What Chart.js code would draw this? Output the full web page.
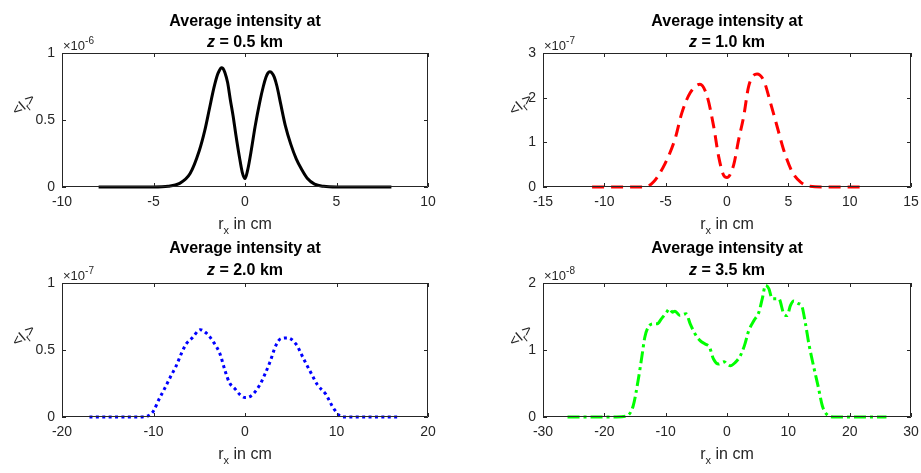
<!DOCTYPE html>
<html>
<head>
<meta charset="utf-8">
<script src="https://cdn.jsdelivr.net/npm/chart.js@4.4.1/dist/chart.umd.min.js"></script>
<style>
  html, body { margin: 0; padding: 0; background: #ffffff; }
  #wrap { position: relative; width: 921px; height: 473px; overflow: hidden; background: #ffffff; }
  #wrap canvas { position: absolute; left: 0; top: 0; }
</style>
</head>
<body>
<div id="wrap">
  <canvas id="c1" width="921" height="473"></canvas>
  <canvas id="c2" width="921" height="473"></canvas>
  <canvas id="c3" width="921" height="473"></canvas>
  <canvas id="c4" width="921" height="473"></canvas>
</div>
<script>
// Propagation distances (km) shown in the panel titles
const distances = ['0.5', '1.0', '2.0', '3.5'];
// Power-of-ten multiplier of each intensity axis
const exponents = ['-6', '-7', '-7', '-8'];

// z = 0.5 km : transverse position r_x (cm) and average intensity (x 1e-6)
const rx05 = [-8, -5, -4.2, -3.6, -3.0, -2.5, -2.2, -1.95, -1.7, -1.5, -1.4, -1.3, -1.2, -1.1, -0.95, -0.8, -0.65, -0.5, -0.3, -0.15, 0, 0.15, 0.35, 0.55, 0.8, 1.0, 1.15, 1.25, 1.35, 1.45, 1.6, 1.75, 1.95, 2.2, 2.5, 2.8, 3.1, 3.4, 3.8, 4.3, 5, 8];
const I05  = [0, 0, 0.005, 0.025, 0.10, 0.27, 0.42, 0.58, 0.74, 0.84, 0.87, 0.89, 0.885, 0.855, 0.78, 0.65, 0.53, 0.39, 0.22, 0.11, 0.063, 0.13, 0.28, 0.45, 0.63, 0.75, 0.82, 0.85, 0.86, 0.855, 0.82, 0.75, 0.62, 0.46, 0.32, 0.21, 0.13, 0.065, 0.022, 0.005, 0, 0];

// z = 1.0 km (x 1e-7)
const rx10 = [-11, -8, -6.67, -6.0, -5.04, -4.22, -3.68, -3.0, -2.2, -1.63, -1.09, -0.68, -0.27, 0, 0.54, 0.95, 1.36, 1.77, 2.45, 3.0, 3.54, 4.08, 4.62, 5.31, 6.0, 6.67, 8, 11];
const I10  = [0, 0, 0, 0.11, 0.53, 1.09, 1.66, 2.11, 2.30, 2.04, 1.36, 0.68, 0.26, 0.21, 0.49, 1.06, 1.58, 2.26, 2.53, 2.38, 1.89, 1.36, 0.83, 0.34, 0.11, 0.02, 0, 0];

// z = 2.0 km (x 1e-7)
const rx20 = [-17, -12, -10.62, -10.0, -9.45, -8.8, -8.18, -7.53, -6.98, -6.43, -5.78, -4.87, -4.25, -3.42, -2.73, -2.18, -1.71, -1.09, -0.6, 0, 0.65, 1.56, 2.18, 2.73, 3.38, 3.93, 4.65, 5.56, 6.47, 7.2, 7.92, 8.83, 9.74, 10.65, 12, 17];
const I20  = [0, 0, 0.008, 0.045, 0.125, 0.21, 0.295, 0.38, 0.47, 0.545, 0.59, 0.652, 0.627, 0.557, 0.47, 0.345, 0.257, 0.21, 0.17, 0.145, 0.157, 0.233, 0.32, 0.41, 0.535, 0.585, 0.59, 0.545, 0.425, 0.33, 0.24, 0.17, 0.058, 0, 0, 0];

// z = 3.5 km (x 1e-8)
const rx35 = [-26, -18, -16.4, -15.3, -14.5, -13.9, -13.4, -12.85, -12.0, -11.4, -10.7, -9.84, -9.4, -8.9, -8.48, -7.66, -6.67, -6.0, -5.2, -4.38, -3.56, -2.85, -2.2, -1.37, -0.44, 0, 0.55, 1.36, 2.18, 2.84, 3.55, 4.4, 5.2, 5.75, 6.28, 6.82, 7.37, 8.45, 9.26, 9.8, 10.35, 10.9, 11.55, 12.15, 12.8, 13.35, 14.16, 14.9, 15.55, 16.25, 17.4, 26];
const I35  = [0, 0, 0.015, 0.165, 0.54, 0.89, 1.19, 1.34, 1.39, 1.39, 1.465, 1.565, 1.615, 1.565, 1.58, 1.515, 1.54, 1.39, 1.24, 1.14, 1.09, 1.04, 0.865, 0.79, 0.825, 0.79, 0.765, 0.815, 0.915, 1.065, 1.29, 1.44, 1.565, 1.765, 1.965, 1.915, 1.765, 1.765, 1.54, 1.515, 1.665, 1.73, 1.695, 1.665, 1.39, 1.09, 0.74, 0.44, 0.165, 0.04, 0, 0];

// Axis ranges: [min, max, step]
const xRanges = [[-10, 10, 5], [-15, 15, 5], [-20, 20, 10], [-30, 30, 10]];
const yRanges = [[0, 1, 0.5], [0, 3, 1], [0, 1, 0.5], [0, 2, 1]];

const FONT = '"Liberation Sans", Arial, Helvetica, sans-serif';
const INK = '#262626';

// Layout of each axes box on the page: left, top, right, bottom, plus text anchors
const layouts = [
  { box: [62, 53, 428, 187],  t1: 25.5, t2: 46.5, yl: [24, 105] },
  { box: [543, 53, 911, 187], t1: 25.5, t2: 46.5, yl: [521, 105] },
  { box: [62, 283, 428, 417], t1: 253,  t2: 274.5, yl: [24, 336] },
  { box: [543, 283, 911, 417], t1: 253, t2: 274.5, yl: [521, 336] }
];

const styles = [
  { color: '#000000', dash: [] },
  { color: '#ff0000', dash: [12, 7] },
  { color: '#0000ff', dash: [3, 3.4] },
  { color: '#00ff00', dash: [12, 4, 3, 4] }
];

const series = [[rx05, I05], [rx10, I10], [rx20, I20], [rx35, I35]];

function fmt(v) { return String(+v.toFixed(3)); }

// Frame, inward ticks on all four sides and the MATLAB-style annotations
const decorations = {
  id: 'decorations',
  afterDraw(chart, args, opts) {
    const ctx = chart.ctx;
    const a = chart.chartArea;
    const xs = chart.scales.x, ys = chart.scales.y;
    const i = opts.index;
    const L = layouts[i];
    ctx.save();
    ctx.strokeStyle = INK;
    ctx.lineWidth = 1;
    ctx.beginPath();
    ctx.rect(a.left + 0.5, a.top + 0.5, a.right - a.left - 1, a.bottom - a.top - 1);
    ctx.stroke();
    const tl = 4;
    ctx.beginPath();
    xs.ticks.forEach(t => {
      const px = Math.round(xs.getPixelForValue(t.value)) + 0.5;
      ctx.moveTo(px, a.bottom); ctx.lineTo(px, a.bottom - tl);
      ctx.moveTo(px, a.top); ctx.lineTo(px, a.top + tl);
    });
    ys.ticks.forEach(t => {
      const py = Math.round(ys.getPixelForValue(t.value)) + 0.5;
      ctx.moveTo(a.left, py); ctx.lineTo(a.left + tl, py);
      ctx.moveTo(a.right, py); ctx.lineTo(a.right - tl, py);
    });
    ctx.stroke();

    const cx = (a.left + a.right) / 2;
    // Title, two lines
    ctx.fillStyle = '#000000';
    ctx.textBaseline = 'alphabetic';
    ctx.textAlign = 'center';
    ctx.font = 'bold 16px ' + FONT;
    ctx.fillText('Average intensity at', cx, L.t1);
    ctx.textAlign = 'left';
    const zFont = 'italic bold 16px ' + FONT;
    const restFont = 'bold 16px ' + FONT;
    const rest = ' = ' + distances[i] + ' km';
    ctx.font = zFont; const wz = ctx.measureText('z').width;
    ctx.font = restFont; const wr = ctx.measureText(rest).width;
    let x0 = cx - (wz + wr) / 2;
    ctx.font = zFont; ctx.fillText('z', x0, L.t2);
    ctx.font = restFont; ctx.fillText(rest, x0 + wz, L.t2);

    // Exponent above the y axis
    ctx.fillStyle = INK;
    ctx.font = '13px ' + FONT;
    const ex = a.left + 1;
    ctx.fillText('\u00d710', ex, a.top - 3);
    const w10 = ctx.measureText('\u00d710').width;
    ctx.font = '10px ' + FONT;
    ctx.fillText(exponents[i], ex + w10, a.top - 9);

    // x label: r_x in cm
    ctx.font = '16px ' + FONT;
    const wrr = ctx.measureText('r').width;
    const wrest = ctx.measureText(' in cm').width;
    ctx.font = '11px ' + FONT;
    const wx = ctx.measureText('x').width;
    const xb = a.bottom + 42;
    let lx = cx - (wrr + wx + wrest) / 2;
    ctx.font = '16px ' + FONT;
    ctx.fillText('r', lx, xb);
    ctx.font = '11px ' + FONT;
    ctx.fillText('x', lx + wrr, xb + 5);
    ctx.font = '16px ' + FONT;
    ctx.fillText(' in cm', lx + wrr + wx, xb);

    // y label: <I_r>, tilted
    ctx.translate(L.yl[0], L.yl[1]);
    ctx.rotate(-0.7);
    ctx.font = '15px ' + FONT;
    const wa = ctx.measureText('<I').width;
    const wb = ctx.measureText('>').width;
    ctx.font = '11px ' + FONT;
    const wsub = ctx.measureText('r').width;
    const tot = wa + wsub + wb;
    ctx.textBaseline = 'middle';
    ctx.font = '15px ' + FONT;
    ctx.fillText('<I', -tot / 2, 0);
    ctx.font = '11px ' + FONT;
    ctx.fillText('r', -tot / 2 + wa, 5);
    ctx.font = '15px ' + FONT;
    ctx.fillText('>', -tot / 2 + wa + wsub, 0);
    ctx.restore();
  }
};

['c1', 'c2', 'c3', 'c4'].forEach((id, i) => {
  const [lft, top, rgt, bot] = layouts[i].box;
  const yW = 60, xH = 50;
  const pts = series[i][0].map((x, k) => ({ x: x, y: series[i][1][k] }));
  new Chart(document.getElementById(id), {
    type: 'line',
    data: {
      datasets: [{
        data: pts,
        borderColor: styles[i].color,
        borderWidth: 3,
        borderDash: styles[i].dash,
        borderCapStyle: 'butt',
        pointRadius: 0,
        fill: false,
        cubicInterpolationMode: 'monotone',
        clip: false
      }]
    },
    options: {
      responsive: false,
      animation: false,
      events: [],
      layout: { padding: { left: lft - yW, top: top, right: 921 - rgt, bottom: 473 - bot - xH } },
      plugins: { legend: { display: false }, tooltip: { enabled: false }, decorations: { index: i } },
      scales: {
        x: {
          type: 'linear',
          min: xRanges[i][0], max: xRanges[i][1],
          grid: { display: false, drawTicks: false },
          border: { display: false },
          ticks: { stepSize: xRanges[i][2], color: INK, font: { family: FONT, size: 14 }, padding: 7, maxRotation: 0, autoSkip: false, callback: v => fmt(v) },
          afterFit: s => { s.height = xH; s.paddingLeft = 0; s.paddingRight = 0; }
        },
        y: {
          type: 'linear',
          min: yRanges[i][0], max: yRanges[i][1],
          grid: { display: false, drawTicks: false },
          border: { display: false },
          ticks: { stepSize: yRanges[i][2], color: INK, font: { family: FONT, size: 14 }, padding: 7, callback: v => fmt(v) },
          afterFit: s => { s.width = yW; s.paddingTop = 0; s.paddingBottom = 0; }
        }
      }
    },
    plugins: [decorations]
  });
});
</script>
</body>
</html>
